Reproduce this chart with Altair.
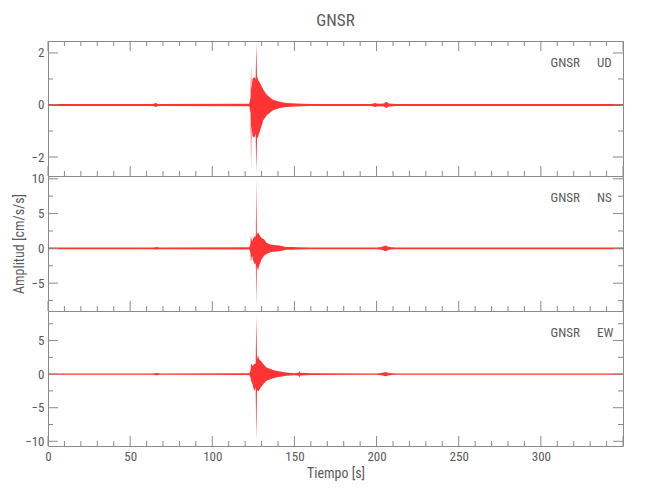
import altair as alt
import pandas as pd

# ---- data (envelope of each trace) ----
T_UD = [0, 64, 65.5, 67, 122.5, 123.3, 123.6, 123.9, 124.5, 125.5, 126.4, 126.8, 127.2, 128,
        129.5, 131, 133, 135, 137, 141, 145, 151.5, 155, 160, 170, 197, 199, 201, 204.5, 206,
        207.5, 212, 350]
UP_UD = [0.04, 0.04, 0.08, 0.04, 0.05, 0.3, 1.47, 0.6, 1.0, 1.08, 1.0, 2.38, 1.1, 0.95,
         0.8, 0.6, 0.4, 0.3, 0.2, 0.12, 0.08, 0.06, 0.05, 0.04, 0.04, 0.04, 0.08, 0.05, 0.06, 0.12,
         0.06, 0.04, 0.04]
LO_UD = [-0.04, -0.04, -0.08, -0.04, -0.05, -0.3, -2.4, -0.8, -1.2, -1.26, -1.1, -2.6, -1.3, -1.2,
         -0.9, -0.6, -0.4, -0.3, -0.2, -0.12, -0.08, -0.06, -0.05, -0.04, -0.04, -0.04, -0.08, -0.05, -0.06, -0.12,
         -0.06, -0.04, -0.04]

T_NS = [0, 64, 66, 68, 122.5, 123.2, 123.5, 124.2, 125, 126, 126.5, 126.8, 127.1, 127.8, 128.5,
        130, 131.5, 133, 135, 137, 141, 145, 149, 152, 160, 200, 203, 205.5, 207.5, 211, 350]
UP_NS = [0.12, 0.12, 0.18, 0.12, 0.15, 0.6, 1.8, 1.0, 1.5, 1.8, 1.6, 9.9, 2.0, 2.3, 2.0,
         1.5, 1.3, 0.8, 0.6, 0.5, 0.4, 0.2, 0.2, 0.15, 0.12, 0.12, 0.2, 0.4, 0.2, 0.12, 0.12]
LO_NS = [-0.12, -0.12, -0.18, -0.12, -0.15, -0.6, -2.0, -1.0, -1.8, -2.4, -2.0, -8.3, -2.5, -3.2, -2.5,
         -1.6, -1.05, -0.8, -0.6, -0.5, -0.4, -0.2, -0.2, -0.15, -0.12, -0.12, -0.2, -0.4, -0.2, -0.12, -0.12]

T_EW = [0, 64, 66, 68, 122.5, 123.3, 123.6, 124.5, 125.5, 126.4, 126.8, 127.2, 127.8, 128.5,
        129.5, 131, 133, 137, 141, 145, 150, 152.5, 153, 153.5, 160, 200, 203, 205.5, 207.5, 211, 350]
UP_EW = [0.1, 0.1, 0.18, 0.1, 0.12, 0.5, 1.6, 1.2, 1.5, 1.6, 8.7, 2.2, 2.8, 2.2,
         2.0, 1.5, 1.0, 0.6, 0.4, 0.25, 0.15, 0.2, 0.5, 0.2, 0.12, 0.1, 0.18, 0.3, 0.18, 0.1, 0.1]
LO_EW = [-0.1, -0.1, -0.18, -0.1, -0.12, -0.5, -1.0, -1.5, -2.5, -2.0, -10.0, -2.4, -2.6, -2.4,
         -2.0, -1.5, -1.0, -0.6, -0.4, -0.25, -0.15, -0.2, -0.5, -0.2, -0.12, -0.1, -0.18, -0.3, -0.18, -0.1, -0.1]

X_LABELS = [0, 50, 100, 150, 200, 250, 300]
X_MAJOR = [0, 50, 100, 150, 200, 250, 300, 350]
X_MINOR = [v for v in range(10, 350, 10) if v % 50 != 0]

Y_UD_LABELS = [-2, 0, 2]
Y_UD_MINOR = [-1, 1]
Y_NS_LABELS = [-5, 0, 5, 10]
Y_NS_MINOR = [-7.5, -2.5, 2.5, 7.5]
Y_EW_LABELS = [-10, -5, 0, 5]
Y_EW_MINOR = [-7.5, -2.5, 2.5, 7.5]

STATION = "GNSR"
COMPONENTS = ["UD", "NS", "EW"]
TITLE = "GNSR"
X_TITLE = "Tiempo [s]"
Y_TITLE = "Amplitud [cm/s/s]"

W, H = 575, 135
FONT = "Liberation Sans Narrow, Roboto Condensed, Liberation Sans, Arial, sans-serif"
GRAY = "#8a8a8a"
TXT = "#5a5a5a"
XS = alt.Scale(domain=[0, 350], nice=False, zero=False)


def panel(t, up, lo, ydom, ylab, ymin, comp, bottom, ytitle, top):
    ys = alt.Scale(domain=ydom, nice=False, zero=False)
    yaxis = alt.Axis(values=ylab, format="d", title=ytitle, labelPadding=4,
                     titlePadding=5, labelOverlap=False)
    if bottom:
        xaxis = alt.Axis(values=X_LABELS, format="d", title=X_TITLE, labelFlush=False,
                         labelPadding=4, titlePadding=3, labelOverlap=False)
    else:
        xaxis = None
    df = pd.DataFrame({"t": t, "up": up, "lo": lo})
    wave = alt.Chart(df).mark_area(color="#ff1010", opacity=0.85, interpolate="linear").encode(
        x=alt.X("t:Q", scale=XS, axis=xaxis),
        y=alt.Y("up:Q", scale=ys, axis=yaxis),
        y2="lo:Q",
    )
    layers = [wave]
    ymaj = pd.DataFrame({"v": ylab})
    ymi = pd.DataFrame({"v": ymin})
    xmaj = pd.DataFrame({"v": X_MAJOR})
    xmi = pd.DataFrame({"v": X_MINOR})
    for d, ln in [(ymaj, 10), (ymi, 5)]:
        yenc = alt.Y("v:Q", scale=ys, axis=yaxis)
        layers.append(alt.Chart(d).mark_rule(color=GRAY, strokeWidth=1).encode(
            y=yenc, x=alt.value(0), x2=alt.value(ln)))
        layers.append(alt.Chart(d).mark_rule(color=GRAY, strokeWidth=1).encode(
            y=yenc, x=alt.value(W), x2=alt.value(W - ln)))
    for d, ln in [(xmaj, 10), (xmi, 5)]:
        xenc = alt.X("v:Q", scale=XS, axis=xaxis)
        layers.append(alt.Chart(d).mark_rule(color=GRAY, strokeWidth=1).encode(
            x=xenc, y=alt.value(H), y2=alt.value(H - ln)))
        if top:
            layers.append(alt.Chart(d).mark_rule(color=GRAY, strokeWidth=1).encode(
                x=xenc, y=alt.value(0), y2=alt.value(ln)))
    lab = pd.DataFrame({"a": [0]})
    layers.append(alt.Chart(lab).mark_text(text=STATION, align="right", baseline="alphabetic",
                                           font=FONT, fontSize=13, color=TXT).encode(
        x=alt.value(532), y=alt.value(26)))
    layers.append(alt.Chart(lab).mark_text(text=comp, align="left", baseline="alphabetic",
                                           font=FONT, fontSize=13, color=TXT).encode(
        x=alt.value(549), y=alt.value(26)))
    return alt.layer(*layers).properties(width=W, height=H)


p1 = panel(T_UD, UP_UD, LO_UD, [-2.73, 2.46], Y_UD_LABELS, Y_UD_MINOR, COMPONENTS[0], False, "", True)
p2 = panel(T_NS, UP_NS, LO_NS, [-9.0, 10.4], Y_NS_LABELS, Y_NS_MINOR, COMPONENTS[1], False, Y_TITLE, False)
p3 = panel(T_EW, UP_EW, LO_EW, [-10.7, 9.4], Y_EW_LABELS, Y_EW_MINOR, COMPONENTS[2], True, "", False)

chart = alt.vconcat(p1, p2, p3, spacing=0, bounds="flush").properties(
    title=alt.TitleParams(TITLE, font=FONT, fontSize=17, color=TXT, fontWeight="normal",
                          anchor="middle", frame="group", offset=10),
    padding={"left": 3, "top": 4, "right": 5, "bottom": 5},
).configure_view(stroke=GRAY, strokeWidth=1).configure_axis(
    domain=False, ticks=False, grid=False,
    labelFont=FONT, labelFontSize=13, labelColor=TXT,
    titleFont=FONT, titleFontSize=14, titleColor=TXT, titleFontWeight="normal",
).configure_concat(spacing=0)

chart.save("out.html", embed_options={"renderer": "svg", "actions": False})
